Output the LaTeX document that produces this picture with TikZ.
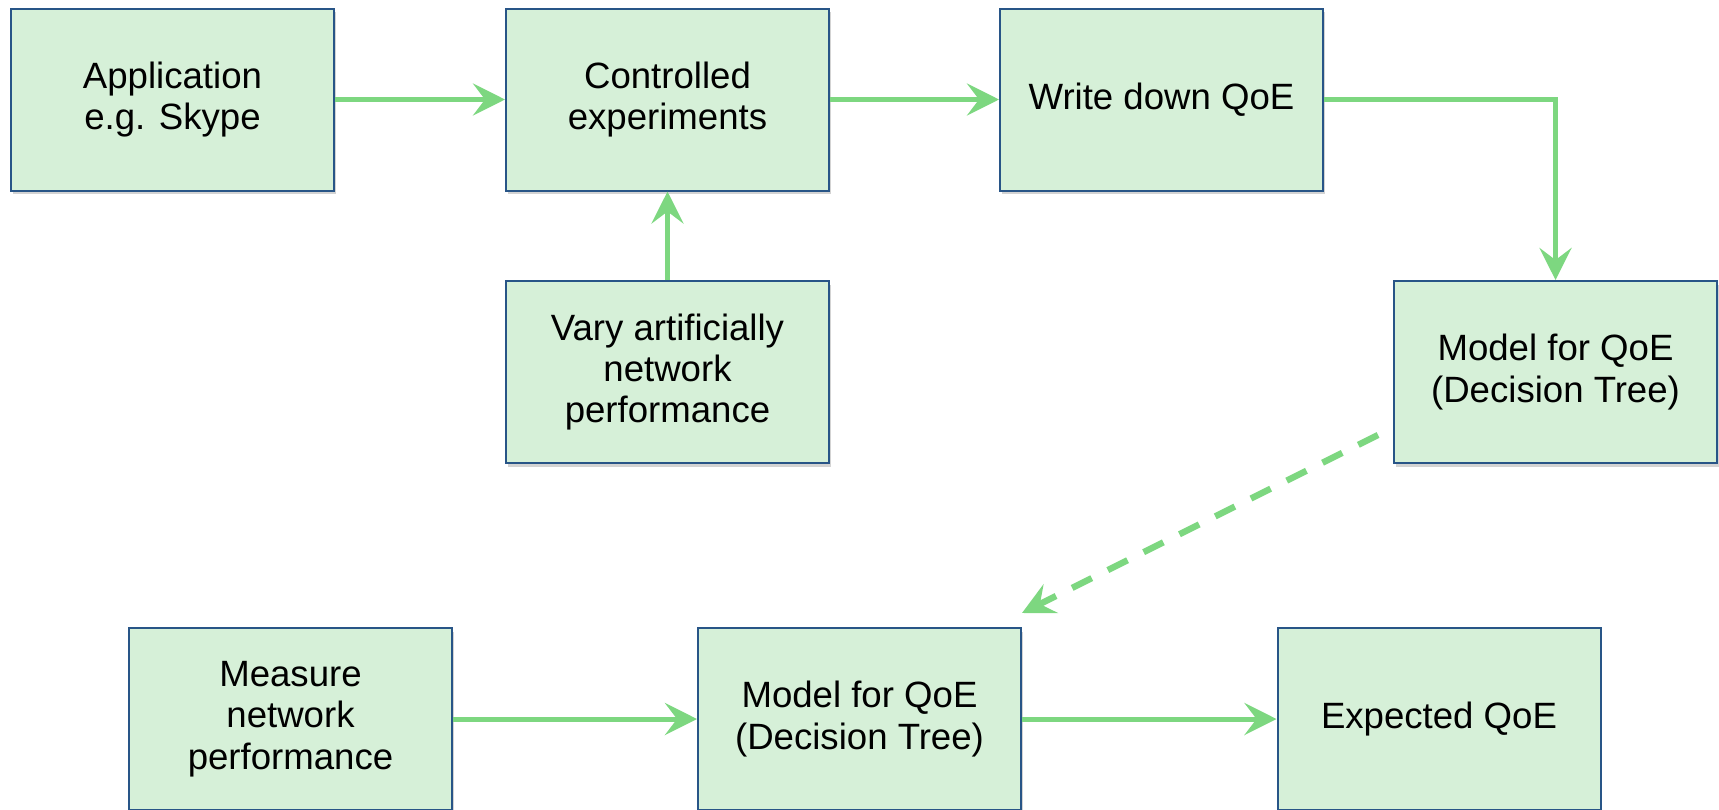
\documentclass[tikz,border=0pt]{standalone}
\usepackage{fontspec}
\setmainfont{Liberation Sans}
\usetikzlibrary{arrows.meta}
\usetikzlibrary{positioning}
\usetikzlibrary{shadows}
\definecolor{boxfill}{RGB}{214,240,216}
\definecolor{boxline}{RGB}{40,85,135}
\definecolor{flowgreen}{RGB}{125,215,128}
\tikzset{stage/.style = {draw=boxline, line width=1pt, fill=boxfill,
                         minimum width=161.5pt, minimum height=91pt, inner sep=0pt,
                         align=center, font=\fontsize{18.3}{20.6}\selectfont,
                         drop shadow={shadow xshift=0.8pt, shadow yshift=-1.8pt,
                                      opacity=0.35}},
         flow/.style = {draw=flowgreen, line width=2.5pt,
                        -{Stealth[length=16pt,width=16pt,inset=6pt]}}}

\begin{document}
\begin{tikzpicture}[x=0.5pt, y=-0.5pt]
      \useasboundingbox (0, 0) rectangle (1719, 809);
      % training
      \node [stage] (app) at (172.5, 99.5) {Application\\e.g. Skype};
      \node [stage] (ctrl) at (667.5, 99.5) {Controlled\\experiments};
      \node [stage] (write) at (1161.5, 99.5) {Write down QoE};
      \node [stage] (vary) at (667.5, 372) {Vary artificially\\network\\performance};
      \node [stage] (modelA) at (1555.5, 372) {Model for QoE\\(Decision Tree)};
      % use
      \node [stage] (measure) at (290.5, 719) {Measure\\network\\performance};
      \node [stage] (modelB) at (859.5, 719) {Model for QoE\\(Decision Tree)};
      \node [stage] (expected) at (1439, 719) {Expected QoE};
      \coordinate (dashstart) at (1378, 435);
      \coordinate (dashend) at (1022, 613);
      \draw [flow] (app) -- (ctrl);
      \draw [flow] (ctrl) -- (write);
      \draw [flow] (vary) -- (ctrl);
      \draw [flow] (write.east) -| (modelA.north);
      \draw [flow, dash pattern=on 11pt off 9pt, line width=3.2pt] (dashstart) -- (dashend);
      \draw [flow] (measure) -- (modelB);
      \draw [flow] (modelB) -- (expected);
\end{tikzpicture}
\end{document}
